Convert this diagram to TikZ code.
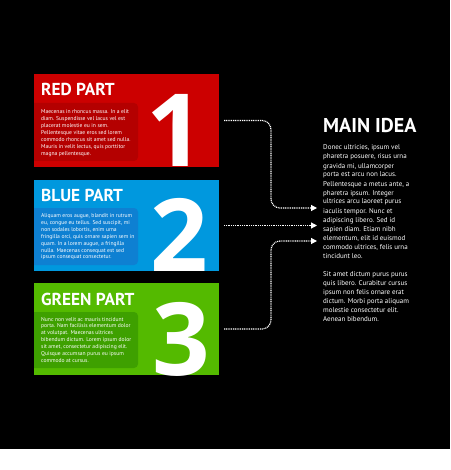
\documentclass[tikz,border=0pt]{standalone}
\usepackage{fontspec}
\setmainfont{PT Sans}
\newfontfamily\digitfont{Open Sans}
\usetikzlibrary{arrows.meta}
\definecolor{redc}{RGB}{204,0,0}
\definecolor{redp}{RGB}{180,0,0}
\definecolor{bluec}{RGB}{0,152,222}
\definecolor{bluep}{RGB}{14,128,210}
\definecolor{greenc}{RGB}{84,186,0}
\definecolor{greenp}{RGB}{62,160,0}
\begin{document}
\begin{tikzpicture}[x=1pt,y=-1pt,
 partbox/.style={draw=none, minimum width=185pt, anchor=north west, inner sep=0pt, outer sep=0pt},
 title/.style={anchor=base west, inner sep=0pt, text=white, font=\bfseries\fontsize{17.3}{17.3}\selectfont},
 digit/.style={anchor=base, inner sep=0pt, text=white, font=\digitfont\bfseries\fontsize{101}{101}\selectfont},
 small/.style={anchor=base west, inner sep=0pt, text=white, font=\fontsize{5.6}{6.9}\selectfont},
 body/.style={anchor=base west, inner sep=0pt, text=white, font=\fontsize{7}{9}\selectfont},
 conn/.style={white, line width=1.2pt, dash pattern=on 1pt off 0.8pt, rounded corners=9pt, -{Triangle[length=6pt,width=6pt]}},
]
\useasboundingbox (0,0) rectangle (450,470);
\fill[black] (0,0) rectangle (450,449);
\fill[white] (0,449) rectangle (450,470);

% boxes
\node[partbox, fill=redc, minimum height=93pt] (red) at (34,74) {};
\node[partbox, fill=bluec, minimum height=91pt] (blue) at (34,180) {};
\node[partbox, fill=greenc, minimum height=92pt] (green) at (34,283) {};

\begin{scope}
\clip (red.north west) rectangle (red.south east);
\fill[redp, rounded corners=4pt] (28,103) rectangle (138,161);
\end{scope}
\begin{scope}
\clip (blue.north west) rectangle (blue.south east);
\fill[bluep, rounded corners=4pt] (28,208) rectangle (138,265);
\end{scope}
\begin{scope}
\clip (green.north west) rectangle (green.south east);
\fill[greenp, rounded corners=4pt] (28,312) rectangle (138,368);
\end{scope}

\node[digit] (d1) at (175,167) {1};
\node[digit] (d2) at (179,271) {2};
\node[digit] (d3) at (181,375) {3};

\node[title] (t-red) at (41,96) {RED PART};
\node[title] (t-blue) at (41,201) {BLUE PART};
\node[title] (t-green) at (41,305) {GREEN PART};

\node[small] (x-red) at (41,114) {\parbox[t]{100pt}{\raggedright
Maecenas in rhoncus massa. In a elit\\
diam. Suspendisse vel lacus vel est\\
placerat molestie eu in sem.\\
Pellentesque vitae eros sed lorem\\
commodo rhoncus sit amet sed nulla.\\
Mauris in velit lectus, quis porttitor\\
magna pellentesque.}};
\node[small] (x-blue) at (41,217.5) {\parbox[t]{100pt}{\raggedright
Aliquam eros augue, blandit in rutrum\\
eu, congue eu tellus. Sed suscipit, mi\\
non sodales lobortis, enim urna\\
fringilla orci, quis ornare sapien sem in\\
quam. In a lorem augue, a fringilla\\
nulla. Maecenas consequat est sed\\
ipsum consequat consectetur.}};
\node[small] (x-green) at (41,321) {\parbox[t]{100pt}{\raggedright
Nunc non velit ac mauris tincidunt\\
porta. Nam facilisis elementum dolor\\
at volutpat. Maecenas ultrices\\
bibendum dictum. Lorem ipsum dolor\\
sit amet, consectetur adipiscing elit.\\
Quisque accumsan purus eu ipsum\\
commodo at cursus.}};

% main idea
\node[anchor=base west, inner sep=0pt, text=white, font=\bfseries\fontsize{20}{20}\selectfont] (main) at (323,133) {MAIN IDEA};
\node[body] (mtext) at (323,150) {\parbox[t]{120pt}{\raggedright
Donec ultricies, ipsum vel\\
pharetra posuere, risus urna\\
gravida mi, ullamcorper\\
porta est arcu non lacus.\\
Pellentesque a metus ante, a\\
pharetra ipsum. Integer\\
ultrices arcu laoreet purus\\
iaculis tempor. Nunc et\\
adipiscing libero. Sed id\\
sapien diam. Etiam nibh\\
elementum, elit id euismod\\
commodo ultrices, felis urna\\
tincidunt leo.\\[9pt]
Sit amet dictum purus purus\\
quis libero. Curabitur cursus\\
ipsum non felis ornare erat\\
dictum. Morbi porta aliquam\\
molestie consectetur elit.\\
Aenean bibendum.}};

% connectors
\coordinate (e1) at (317,208);
\coordinate (e2) at (317,225.5);
\coordinate (e3) at (317,241);
\coordinate (j1) at (271,208);
\coordinate (j3) at (271,241);
\draw[conn] ([xshift=5pt]red.east) -| (j1) -- (e1);
\draw[conn] ([xshift=5pt]blue.east) -- (e2);
\draw[conn] ([xshift=5pt]green.east) -| (j3) -- (e3);
\end{tikzpicture}
\end{document}
